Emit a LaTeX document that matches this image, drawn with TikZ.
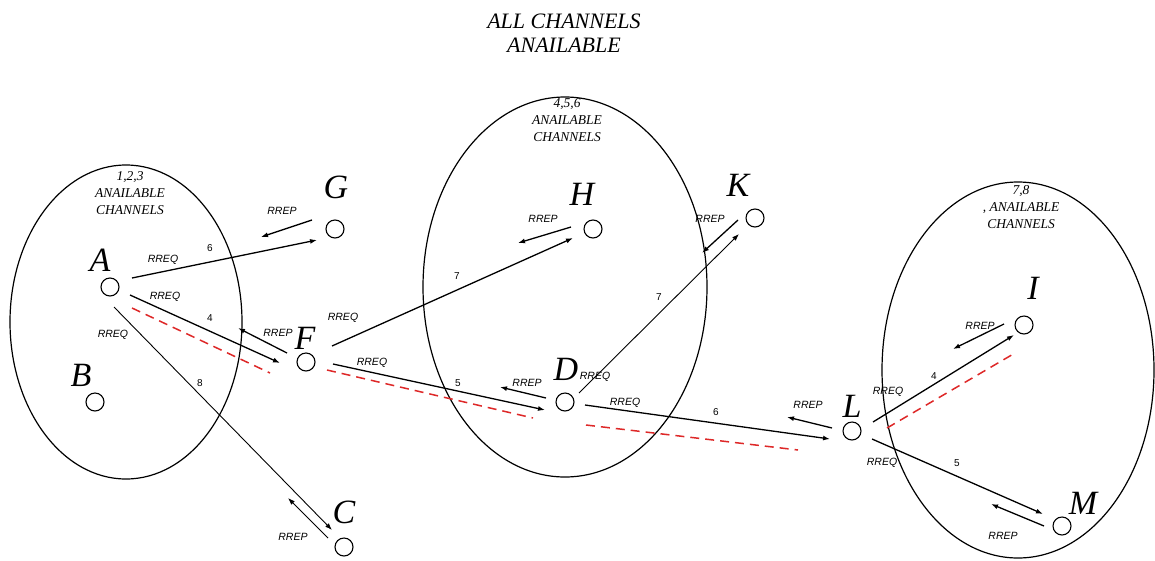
\documentclass[tikz,border=0pt]{standalone}
\usepackage{fontspec}
\setmainfont{Liberation Serif}
\newfontfamily\labfont{Liberation Sans}
\usetikzlibrary{arrows.meta,calc}
\definecolor{pathred}{RGB}{222,40,40}
\begin{document}
\begin{tikzpicture}[x=1pt,y=-1pt,
  pt/.style={circle,draw,line width=1.1pt,minimum size=18pt,inner sep=0pt},
  letter/.style={font=\fontsize{34}{34}\selectfont\itshape,inner sep=0pt},
  msg/.style={font=\labfont\itshape\fontsize{10.5}{12}\selectfont,inner sep=0pt},
  chn/.style={font=\labfont\fontsize{10}{12}\selectfont,inner sep=0pt},
  region/.style={font=\fontsize{13.5}{17}\selectfont\itshape,align=center,inner sep=0pt},
  zone/.style={line width=1.2pt},
  req/.style={line width=1.3pt,-{Latex[length=7pt,width=5pt]}},
  thinreq/.style={line width=0.9pt,-{Latex[length=7pt,width=5pt]}},
  rep/.style={line width=1.3pt,-{Latex[length=7pt,width=5pt]}},
  route/.style={pathred,line width=1.5pt,dash pattern=on 9pt off 6pt}
]
\fill[white] (0,0) rectangle (1155,560);
\useasboundingbox (0,0) rectangle (1155,560);

% zones
\draw[zone] (126,322) ellipse [x radius=116pt, y radius=157pt];
\draw[zone] (565,287) ellipse [x radius=142pt, y radius=190pt];
\draw[zone] (1018,370) ellipse [x radius=136pt, y radius=188pt];

% titles
\node[font=\fontsize{22}{24}\selectfont\itshape,align=center,inner sep=0pt] (title) at (564,33) {ALL CHANNELS\\ANAILABLE};
\node[region] (r1) at (130,193) {1,2,3\\ANAILABLE\\CHANNELS};
\node[region] (r2) at (567,120) {4,5,6\\ANAILABLE\\CHANNELS};
\node[region] (r3) at (1021,207) {7,8\\, ANAILABLE\\CHANNELS};

% nodes
\node[pt] (A) at (110,287) {};
\node[pt] (B) at (95,402) {};
\node[pt] (G) at (335,229) {};
\node[pt] (F) at (306,362) {};
\node[pt] (C) at (344,547) {};
\node[pt] (H) at (593,229) {};
\node[pt] (K) at (755,218) {};
\node[pt] (D) at (565,402) {};
\node[pt] (L) at (852,431) {};
\node[pt] (I) at (1024,325) {};
\node[pt] (M) at (1062,526) {};

\node[letter] (lA) at (100,260) {A};
\node[letter] (lB) at (81,375) {B};
\node[letter] (lG) at (336,187) {G};
\node[letter] (lF) at (305,338) {F};
\node[letter] (lC) at (344,512) {C};
\node[letter] (lH) at (582,194) {H};
\node[letter] (lK) at (738,185) {K};
\node[letter] (lD) at (566,369) {D};
\node[letter] (lL) at (852,406) {L};
\node[letter] (lI) at (1033,288) {I};
\node[letter] (lM) at (1083,503) {M};

% route (red dashed)
\draw[route] ($(A)+(22,21)$) -- ($(F)+(-36,11)$);
\draw[route] ($(F)+(21,8)$) -- ($(D)+(-32,16)$);
\draw[route] ($(D)+(21,23)$) -- ($(L)+(-54,19)$);
\draw[route] ($(L)+(35,-3)$) -- ($(I)+(-9,28)$);

% requests
\draw[req] ($(A)+(22,-9)$) -- ($(G)+(-18,11)$);
\draw[req] ($(A)+(20,8)$) -- ($(F)+(-26,1)$);
\draw[thinreq] ($(A)+(4,20)$) -- ($(C)+(-12,-17)$);
\draw[req] ($(F)+(26,-16)$) -- ($(H)+(-20,9)$);
\draw[req] ($(F)+(27,2)$) -- ($(D)+(-20,8)$);
\draw[thinreq] ($(D)+(14,-9)$) -- ($(K)+(-16,16)$);
\draw[req] ($(D)+(20,3)$) -- ($(L)+(-22,8)$);
\draw[req] ($(L)+(21,-9)$) -- ($(I)+(-10,10)$);
\draw[req] ($(L)+(20,8)$) -- ($(M)+(-19,-12)$);

% replies
\draw[rep] ($(G)+(-23,-9)$) -- ($(G)+(-74,8)$);
\draw[rep] ($(F)+(-19,-9)$) -- ($(F)+(-68,-34)$);
\draw[thinreq] ($(C)+(-16,-9)$) -- ($(C)+(-56,-49)$);
\draw[rep] ($(H)+(-22,-2)$) -- ($(H)+(-75,14)$);
\draw[rep] ($(D)+(-19,-4)$) -- ($(D)+(-65,-15)$);
\draw[rep] ($(K)+(-17,2)$) -- ($(K)+(-53,35)$);
\draw[rep] ($(L)+(-20,-3)$) -- ($(L)+(-65,-14)$);
\draw[rep] ($(I)+(-20,-1)$) -- ($(I)+(-71,24)$);
\draw[rep] ($(M)+(-18,0)$) -- ($(M)+(-71,-22)$);

% message labels
\node[msg] (q1) at (163,260) {RREQ};
\node[msg] (q2) at (165,297) {RREQ};
\node[msg] (q3) at (113,335) {RREQ};
\node[msg] (q4) at (343,318) {RREQ};
\node[msg] (q5) at (372,363) {RREQ};
\node[msg] (q6) at (595,377) {RREQ};
\node[msg] (q7) at (625,403) {RREQ};
\node[msg] (q8) at (888,392) {RREQ};
\node[msg] (q9) at (882,463) {RREQ};

\node[msg] (p1) at (282,211) {RREP};
\node[msg] (p2) at (278,333) {RREP};
\node[msg] (p3) at (293,537) {RREP};
\node[msg] (p4) at (543,219) {RREP};
\node[msg] (p5) at (527,383) {RREP};
\node[msg] (p6) at (710,219) {RREP};
\node[msg] (p7) at (808,405) {RREP};
\node[msg] (p8) at (980,326) {RREP};
\node[msg] (p9) at (1003,536) {RREP};

% channel numbers
\node[chn] (c1) at (210,248) {6};
\node[chn] (c2) at (210,318) {4};
\node[chn] (c3) at (200,383) {8};
\node[chn] (c4) at (457,276) {7};
\node[chn] (c5) at (458,383) {5};
\node[chn] (c6) at (659,297) {7};
\node[chn] (c7) at (716,412) {6};
\node[chn] (c8) at (934,376) {4};
\node[chn] (c9) at (957,463) {5};
\end{tikzpicture}
\end{document}
